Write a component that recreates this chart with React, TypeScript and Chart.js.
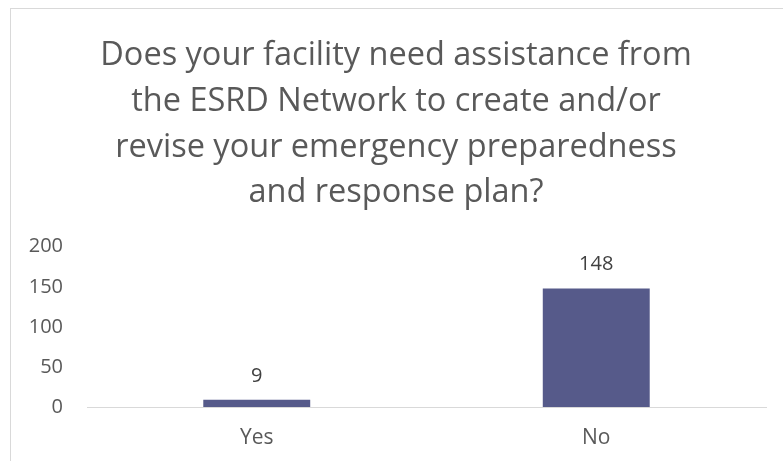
import React, { useEffect, useRef } from "react";
import { Chart, registerables } from "chart.js";

Chart.register(...registerables);

const categories = ["Yes", "No"];
const values = [9, 148];
const titleLines = [
  "Does your facility need assistance from",
  "the ESRD Network to create and/or",
  "revise your emergency preparedness",
  "and response plan?",
];
const yMin = 0;
const yMax = 200;
const yStep = 50;

const FONT = "'Open Sans', 'Liberation Sans', sans-serif";

const frame = {
  id: "frame",
  beforeDraw(chart: any) {
    const ctx = chart.ctx;
    ctx.save();
    ctx.fillStyle = "#ffffff";
    ctx.fillRect(0, 0, chart.width, chart.height);
    ctx.strokeStyle = "#d9d9d9";
    ctx.lineWidth = 1;
    ctx.strokeRect(10.5, 8.5, 1000, 1000);
    ctx.restore();
  },
};

const valueLabels = {
  id: "valueLabels",
  afterDatasetsDraw(chart: any) {
    const ctx = chart.ctx;
    const meta = chart.getDatasetMeta(0);
    ctx.save();
    ctx.font = `20px ${FONT}`;
    ctx.fillStyle = "#404040";
    ctx.textAlign = "center";
    ctx.textBaseline = "alphabetic";
    meta.data.forEach((bar: any, i: number) => {
      ctx.fillText(String(chart.data.datasets[0].data[i]), bar.x, bar.y - 18);
    });
    ctx.restore();
  },
};

export default function App() {
  const ref = useRef<HTMLCanvasElement>(null);
  useEffect(() => {
    if (!ref.current) return;
    const chart = new Chart(ref.current, {
      type: "bar",
      data: {
        labels: categories,
        datasets: [
          {
            data: values,
            backgroundColor: "#565a8a",
            categoryPercentage: 1,
            barPercentage: 0.315,
          },
        ],
      },
      options: {
        responsive: false,
        animation: false,
        layout: { padding: { left: 26, right: 17, top: 0, bottom: 0 } },
        plugins: {
          legend: { display: false },
          tooltip: { enabled: false },
          title: {
            display: true,
            text: titleLines,
            color: "#595959",
            font: { family: FONT, size: 32.5, weight: "normal", lineHeight: 1.406 },
            padding: { top: 33, bottom: 31 },
          },
        },
        scales: {
          x: {
            grid: { display: false },
            border: { display: true, color: "#d9d9d9", width: 1 },
            ticks: {
              color: "#595959",
              font: { family: FONT, size: 21 },
              padding: 10,
            },
            afterFit: (scale: any) => {
              scale.height = 54;
            },
          },
          y: {
            min: yMin,
            max: yMax,
            grid: { display: false },
            border: { display: false },
            ticks: {
              stepSize: yStep,
              color: "#595959",
              font: { family: FONT, size: 20 },
              padding: 16,
            },
            afterFit: (scale: any) => {
              scale.width = 61;
            },
          },
        },
      },
      plugins: [frame, valueLabels],
    });
    return () => chart.destroy();
  }, []);
  return (
    <div style={{ position: "fixed", left: 0, top: 0, width: 783, height: 461, overflow: "hidden", background: "#fff" }}>
      <canvas ref={ref} width={783} height={461} style={{ width: 783, height: 461, display: "block" }} />
    </div>
  );
}
